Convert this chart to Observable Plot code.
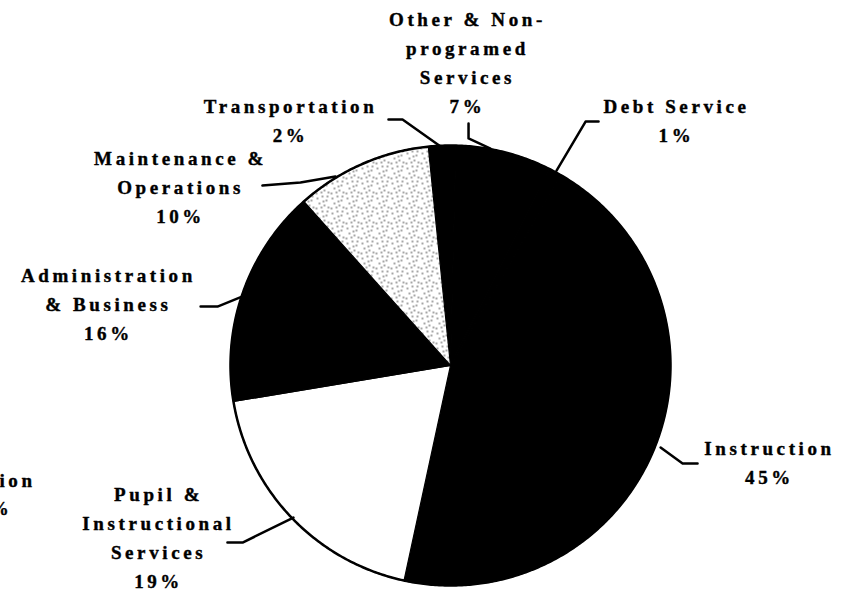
<!DOCTYPE html>
<html>
<head>
<meta charset="utf-8">
<script src="https://cdn.jsdelivr.net/npm/d3@7"></script>
<script src="https://cdn.jsdelivr.net/npm/@observablehq/plot@0.6"></script>
<style>
  html, body { margin: 0; padding: 0; background: #ffffff; }
  #chart { width: 842px; height: 593px; overflow: hidden; }
</style>
</head>
<body>
<div id="chart"></div>
<script>
// ---- Data (clockwise from near 12 o'clock) ----
const categories = [
  "Transportation",
  "Other & Non-programed Services",
  "Debt Service",
  "Instruction",
  "Pupil & Instructional Services",
  "Administration & Business",
  "Maintenance & Operations"
];
const shares = [2, 7, 1, 45, 19, 16, 10];
const labelNames = [
  "Transportation",
  "Other & Non-\nprogramed\nServices",
  "Debt Service",
  "Instruction",
  "Pupil &\nInstructional\nServices",
  "Administration\n& Business",
  "Maintenance &\nOperations"
];
const sliceFills = ["black", "black", "black", "black", "white", "black", "url(#stipple)"];

// ---- Layout (in pie-radius units; not data) ----
const startAngleDeg = -5.8;
const labelPos = [
  [-0.727, 1.123], [0.077, 1.386], [1.027, 1.123], [1.45, -0.432],
  [-1.327, -0.772], [-1.555, 0.291], [-1.227, 0.820]
];
const leaders = [
  [[-0.282, 1.118], [-0.218, 1.118], [-0.045, 0.995]],
  [[0.082, 1.100], [0.082, 1.032], [0.182, 0.986]],
  [[0.673, 1.109], [0.614, 1.109], [0.482, 0.886]],
  [[1.123, -0.445], [1.055, -0.445], [0.955, -0.373]],
  [[-1.014, -0.805], [-0.945, -0.805], [-0.714, -0.691]],
  [[-1.136, 0.268], [-1.059, 0.268], [-0.945, 0.314]],
  [[-0.855, 0.818], [-0.682, 0.832], [-0.523, 0.859]]
];
// label of the neighbouring (cropped) chart at the left edge
const croppedLabel = [
  {text: "Instruction", x: -1.886, y: -0.523},
  {text: "45%", x: -1.991, y: -0.650}
];

// ---- Build ----
const rows = categories.map((c, i) => ({category: c, share: shares[i], fill: sliceFills[i]}));
const a0 = startAngleDeg * Math.PI / 180;
const arcs = d3.pie().sort(null).value(d => d.share).startAngle(a0).endAngle(a0 + 2 * Math.PI)(rows);

function slicePoints(a) {
  const pts = [{x: 0, y: 0}];
  const n = Math.max(2, Math.ceil((a.endAngle - a.startAngle) / (Math.PI / 360)));
  for (let k = 0; k <= n; k++) {
    const t = a.startAngle + (a.endAngle - a.startAngle) * k / n;
    pts.push({x: Math.sin(t), y: Math.cos(t)});
  }
  pts.push({x: 0, y: 0});
  return pts;
}
const outline = d3.range(0, 721).map(k => ({x: Math.sin(k * Math.PI / 360), y: Math.cos(k * Math.PI / 360)}));

const labelRows = rows.map((d, i) => ({
  text: `${labelNames[i]}\n${d.share}%`,
  x: labelPos[i][0], y: labelPos[i][1]
}));
const leaderRows = leaders.flatMap((pts, i) => pts.map(p => ({category: categories[i], x: p[0], y: p[1]})));

const textStyle = {fontSize: 19, fontWeight: "bold", fontFamily: "Liberation Serif, Times New Roman, serif", fill: "black", stroke: "black", strokeWidth: 0.4};

const chart = Plot.plot({
  width: 842,
  height: 593,
  margin: 0,
  x: {domain: [-1, 1], range: [230, 670], axis: null},
  y: {domain: [-1, 1], range: [585, 145], axis: null},
  style: {background: "white", letterSpacing: "3.6px", overflow: "hidden"},
  marks: [
    ...arcs.map(a => Plot.line(slicePoints(a), {x: "x", y: "y", fill: a.data.fill, stroke: "black", strokeWidth: 1.2})),
    Plot.line(outline, {x: "x", y: "y", stroke: "black", strokeWidth: 2.5}),
    Plot.line(leaderRows, {x: "x", y: "y", z: "category", stroke: "black", strokeWidth: 2.5}),
    Plot.text(labelRows, {x: "x", y: "y", text: "text", textAnchor: "middle", lineAnchor: "middle", lineHeight: 1.53, ...textStyle}),
    Plot.text(croppedLabel, {x: "x", y: "y", text: "text", textAnchor: "end", lineAnchor: "middle", ...textStyle})
  ]
});

// stipple texture for the Maintenance & Operations slice
const defs = d3.select(chart).insert("defs", ":first-child");
const pat = defs.append("pattern").attr("id", "stipple").attr("patternUnits", "userSpaceOnUse")
  .attr("width", 15).attr("height", 15);
pat.append("rect").attr("width", 15).attr("height", 15).attr("fill", "white");
[[2,3],[7,1],[11,5],[4,8],[9,10],[13,12],[1,13],[6,12],[12,1],[8,6]].forEach(([cx, cy]) =>
  pat.append("circle").attr("cx", cx).attr("cy", cy).attr("r", 0.75).attr("fill", "#222"));

document.getElementById("chart").appendChild(chart);
</script>
</body>
</html>
